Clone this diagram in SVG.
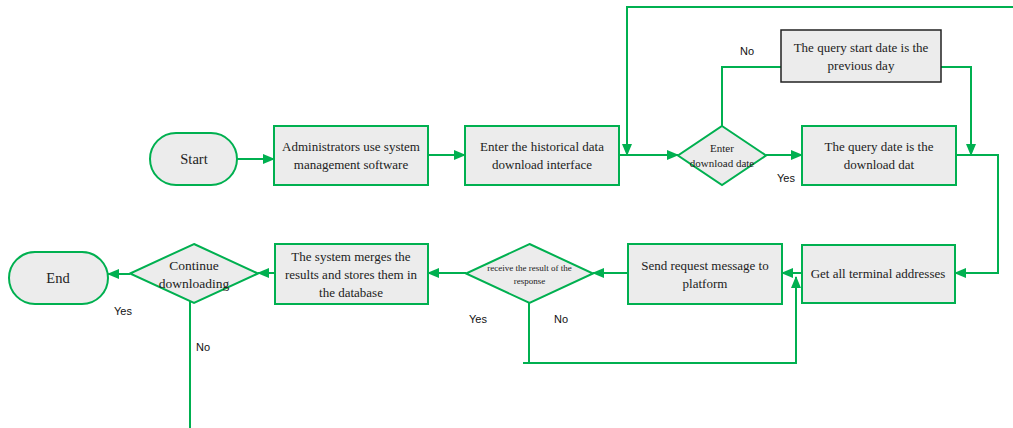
<svg xmlns="http://www.w3.org/2000/svg" width="1013" height="428" viewBox="0 0 1013 428">
  <defs>
    <marker id="arr" markerWidth="12" markerHeight="10" refX="11" refY="5" orient="auto" markerUnits="userSpaceOnUse">
      <path d="M0,0 L12,5 L0,10 Z" fill="#00b050"/>
    </marker>
  </defs>
  <style>
    .box { fill: #ececec; stroke: #00b050; stroke-width: 2; }
    .box-dark { fill: #ececec; stroke: #222; stroke-width: 1.5; }
    .t { font-family: "Liberation Serif", "Times New Roman", serif; font-size: 13px; fill: #222; text-anchor: middle; }
    .tl { font-family: "Liberation Serif", "Times New Roman", serif; font-size: 14.5px; fill: #222; text-anchor: middle; }
    .ts { font-family: "Liberation Serif", "Times New Roman", serif; font-size: 11px; fill: #222; text-anchor: middle; }
    .tx { font-family: "Liberation Serif", "Times New Roman", serif; font-size: 9px; fill: #222; text-anchor: middle; }
    .lbl { font-family: "Liberation Sans", Arial, sans-serif; font-size: 11px; fill: #111; text-anchor: middle; }
    .ln { fill: none; stroke: #00b050; stroke-width: 2; }
  </style>
  <rect width="1013" height="428" fill="#fff"/>

  <g id="connectors">
    <path class="ln" d="M237,159 H274" marker-end="url(#arr)"/>
    <path class="ln" d="M428,155 H465" marker-end="url(#arr)"/>
    <path class="ln" d="M619,155 H678" marker-end="url(#arr)"/>
    <path class="ln" d="M1013,7 H627 V155" marker-end="url(#arr)"/>
    <path class="ln" d="M766,155 H802" marker-end="url(#arr)"/>
    <path class="ln" d="M722,126 V67 H781"/>
    <path class="ln" d="M941,67 H971 V155" marker-end="url(#arr)"/>
    <path class="ln" d="M956,155 H998 V273 H955" marker-end="url(#arr)"/>
    <path class="ln" d="M802,273 H782" marker-end="url(#arr)"/>
    <path class="ln" d="M628,273 H593" marker-end="url(#arr)"/>
    <path class="ln" d="M466,273 H428" marker-end="url(#arr)"/>
    <path class="ln" d="M275,273 H258" marker-end="url(#arr)"/>
    <path class="ln" d="M130,274 H108" marker-end="url(#arr)"/>
    <path class="ln" d="M529,303 V363"/>
    <path class="ln" d="M523,363 H796 V277" marker-end="url(#arr)"/>
    <path class="ln" d="M190,300 V428"/>
    <text class="lbl" x="747" y="55">No</text>
    <text class="lbl" x="786" y="182">Yes</text>
    <text class="lbl" x="478" y="323">Yes</text>
    <text class="lbl" x="561" y="323">No</text>
    <text class="lbl" x="123" y="315">Yes</text>
    <text class="lbl" x="203" y="351">No</text>
  </g>

  <g id="start">
    <rect class="box" x="150" y="133" width="87" height="52" rx="26"/>
    <text class="tl" x="194" y="164">Start</text>
  </g>
  <g id="admin">
    <rect class="box" x="274" y="126" width="154" height="59"/>
    <text class="t" x="351" y="151">Administrators use system</text>
    <text class="t" x="351" y="169">management software</text>
  </g>
  <g id="history">
    <rect class="box" x="465" y="126" width="154" height="59"/>
    <text class="t" x="542" y="151">Enter the historical data</text>
    <text class="t" x="542" y="169">download interface</text>
  </g>
  <g id="enter-date">
    <path class="box" d="M722,126 L766,155.5 L722,185 L678,155.5 Z"/>
    <text class="ts" x="722" y="152">Enter</text>
    <text class="ts" x="722" y="167">download date</text>
  </g>
  <g id="prev-day">
    <rect class="box-dark" x="781" y="30" width="160" height="52"/>
    <text class="t" x="861" y="52">The query start date is the</text>
    <text class="t" x="861" y="70">previous day</text>
  </g>
  <g id="query-date">
    <rect class="box" x="802" y="126" width="154" height="59"/>
    <text class="t" x="879" y="151">The query date is the</text>
    <text class="t" x="879" y="169">download dat</text>
  </g>
  <g id="terminals">
    <rect class="box" x="802" y="245" width="153" height="58"/>
    <text class="t" x="878" y="278">Get all terminal addresses</text>
  </g>
  <g id="send">
    <rect class="box" x="628" y="244" width="154" height="60"/>
    <text class="t" x="705" y="270">Send request message to</text>
    <text class="t" x="705" y="288">platform</text>
  </g>
  <g id="receive">
    <path class="box" d="M529.5,244 L593,273.5 L529.5,303 L466,273.5 Z"/>
    <text class="tx" x="529.5" y="271">receive the result of the</text>
    <text class="tx" x="529.5" y="284">response</text>
  </g>
  <g id="merge">
    <rect class="box" x="275" y="244" width="153" height="60"/>
    <text class="t" x="351" y="261">The system merges the</text>
    <text class="t" x="351" y="279">results and stores them in</text>
    <text class="t" x="351" y="297">the database</text>
  </g>
  <g id="continue">
    <path class="box" d="M194,244 L258,273.5 L194,303 L130,273.5 Z"/>
    <text class="t" x="194" y="270" style="font-size:13.5px">Continue</text>
    <text class="t" x="194" y="288" style="font-size:13.5px">downloading</text>
  </g>
  <g id="end">
    <rect class="box" x="9" y="252" width="99" height="52" rx="26"/>
    <text class="tl" x="58" y="283">End</text>
  </g>
</svg>
